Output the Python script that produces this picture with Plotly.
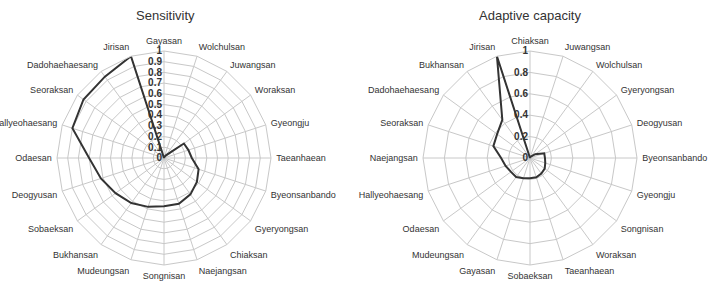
import plotly.graph_objects as go

sens_cats = ["Gayasan", "Wolchulsan", "Juwangsan", "Woraksan", "Gyeongju", "Taeanhaean",
             "Byeonsanbando", "Gyeryongsan", "Chiaksan", "Naejangsan", "Songnisan", "Mudeungsan",
             "Bukhansan", "Sobaeksan", "Deogyusan", "Odaesan", "Hallyeohaesang", "Seoraksan",
             "Dadohaehaesang", "Jirisan"]
sens_vals = [0.0, 0.01, 0.03, 0.23, 0.24, 0.26, 0.34, 0.38, 0.42, 0.45, 0.45, 0.48,
             0.52, 0.56, 0.62, 0.70, 0.90, 0.93, 0.94, 1.0]

adap_cats = ["Chiaksan", "Juwangsan", "Wolchulsan", "Gyeryongsan", "Deogyusan", "Byeonsanbando",
             "Gyeongju", "Songnisan", "Woraksan", "Taeanhaean", "Sobaeksan", "Gayasan",
             "Mudeungsan", "Odaesan", "Hallyeohaesang", "Naejangsan", "Seoraksan",
             "Dadohaehaesang", "Bukhansan", "Jirisan"]
adap_vals = [0.0, 0.01, 0.02, 0.06, 0.14, 0.14, 0.15, 0.17, 0.18, 0.19, 0.19, 0.20,
             0.22, 0.22, 0.24, 0.27, 0.36, 0.38, 0.44, 1.0]

sens_ticks = [0, 0.1, 0.2, 0.3, 0.4, 0.5, 0.6, 0.7, 0.8, 0.9, 1]
adap_ticks = [0, 0.2, 0.4, 0.6, 0.8, 1]

LINE = "#333333"
GRID = "#c8c8c8"
TXT = "#333333"
FONT = "Liberation Sans, Arial, sans-serif"

fig = go.Figure()
fig.add_trace(go.Scatterpolar(r=sens_vals + [sens_vals[0]], theta=sens_cats + [sens_cats[0]],
                              mode="lines", line=dict(color=LINE, width=2), subplot="polar",
                              showlegend=False))
fig.add_trace(go.Scatterpolar(r=adap_vals + [adap_vals[0]], theta=adap_cats + [adap_cats[0]],
                              mode="lines", line=dict(color=LINE, width=2), subplot="polar2",
                              showlegend=False))

W, H = 714, 281
R = 107

def dom(cx, cy):
    yb = H - cy
    return dict(x=[(cx - R) / W, (cx + R) / W], y=[(yb - R) / H, (yb + R) / H])

def polar(cx, cy, cats, ticks):
    return dict(
        domain=dom(cx, cy),
        gridshape="linear",
        bgcolor="white",
        angularaxis=dict(direction="clockwise", rotation=90, type="category",
                         categoryarray=cats, categoryorder="array",
                         showline=True, linecolor=GRID, linewidth=1,
                         gridcolor=GRID, gridwidth=1,
                         ticks="outside", ticklen=3, tickcolor="rgba(0,0,0,0)",
                         tickfont=dict(family=FONT, size=9, color=TXT)),
        radialaxis=dict(range=[0, 1], tickvals=ticks, ticktext=[f"{t:g}" for t in ticks],
                        angle=90, tickangle=90, side="counterclockwise",
                        showline=False, gridcolor=GRID, gridwidth=1,
                        ticks="", tickfont=dict(family=FONT, size=10, color=TXT, weight="bold")),
    )

fig.update_layout(
    width=W, height=H,
    margin=dict(l=0, r=0, t=0, b=0),
    paper_bgcolor="white",
    polar=polar(164, 158, sens_cats, sens_ticks),
    polar2=polar(530, 158, adap_cats, adap_ticks),
    annotations=[
        dict(text="Sensitivity", x=165 / W, y=1 - 15 / H, xref="paper", yref="paper",
             showarrow=False, font=dict(family=FONT, size=13, color=TXT), xanchor="center", yanchor="middle"),
        dict(text="Adaptive capacity", x=530 / W, y=1 - 15 / H, xref="paper", yref="paper",
             showarrow=False, font=dict(family=FONT, size=13, color=TXT), xanchor="center", yanchor="middle"),
    ],
)

fig.write_html("out.html")
